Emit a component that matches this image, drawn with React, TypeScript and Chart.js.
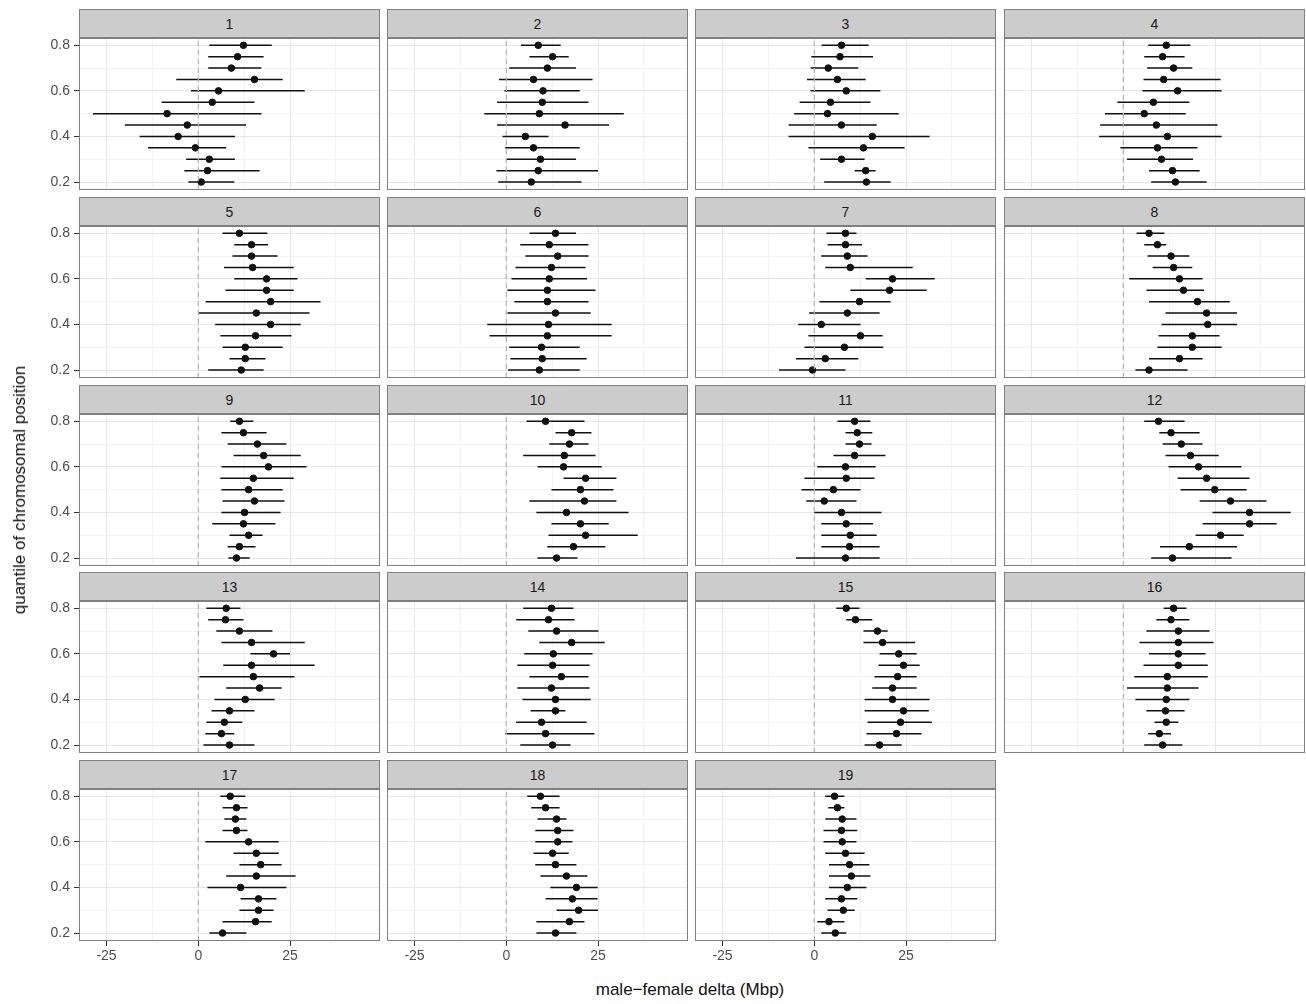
import { useEffect, useRef } from "react";
import { Chart, registerables } from "chart.js";

Chart.register(...registerables);

// quantiles, top (0.8) to bottom (0.2)
const quantiles = [0.8, 0.75, 0.7, 0.65, 0.6, 0.55, 0.5, 0.45, 0.4, 0.35, 0.3, 0.25, 0.2];
const chromosomes = ["1","2","3","4","5","6","7","8","9","10","11","12","13","14","15","16","17","18","19"];

// [estimate, low, high] per quantile, listed top to bottom
const chr1 = [[12.3,3,20],[10.7,2.7,17.8],[9,2.7,17.2],[15.3,-6,23],[5.5,-2,29],[3.8,-10,15.3],[-8.5,-28.7,17.2],[-3,-20,13],[-5.5,-16,10],[-0.8,-13.7,7.6],[3,-3.3,10],[2.5,-3.8,16.7],[0.8,-2.7,9.8]];
const chr2 = [[8.7,4,14.8],[12.6,6.3,17],[11.2,0.8,19],[7.4,-2,23.5],[10,-0.5,20],[9.8,-2.5,22.4],[9,-6,32],[16,-2.5,28],[5.2,-1,11.5],[7.4,-0.3,20],[9.3,0,19],[8.7,-2.7,25],[6.8,-2.2,20.5]];
const chr3 = [[7.4,2,14.8],[7,-0.8,16],[3.8,-1,12],[6.3,-2,14],[8.7,-1,18],[4.4,-4,15.3],[3.6,-5.5,23],[7.4,-7,17],[15.8,-7,31.4],[13.4,-1.6,24.6],[7.4,1.6,13.7],[14,11,16.7],[14.2,2.7,20.8]];
const chr4 = [[11.7,6.8,18.3],[10.7,5.7,16.7],[13.7,6.5,18.8],[11,5.5,26.5],[14.8,5.2,26.8],[8.2,-1.6,18],[5.7,-5,17],[9,-6.3,25.7],[12,-6.6,26.8],[9.3,-0.8,20.2],[10.4,1,19],[13.4,7,20.8],[14.2,7.6,22.7]];
const chr5 = [[11.2,6.6,18.8],[14.5,9.8,19],[14.5,9.3,21.6],[14.8,7,26],[18.6,9.8,27],[18.6,7.4,26],[19.7,2,33.3],[15.8,0,30.3],[19.7,4.6,27.9],[15.6,6,25.4],[12.8,6.6,23],[12.8,8.5,18.3],[11.7,2.7,17.8]];
const chr6 = [[13.4,6.3,19],[11.7,3.8,22.4],[14,5.2,22.4],[12.3,2.5,21.6],[11.7,1.4,22],[11.2,0.3,24.3],[11.2,2.2,22.4],[13.4,0.3,23],[11.5,-5.2,28.7],[11.2,-4.6,28.7],[9.6,0.8,20],[9.8,1.1,21.9],[9,0.5,20]];
const chr7 = [[8.5,3.3,11.5],[8.5,3.6,13],[9,1.9,14.5],[9.8,3,26.8],[21.3,14,32.8],[20.5,9.8,30.6],[12.3,1.4,20.8],[9,-1.4,17.8],[1.9,-4.4,12.6],[12.6,-1.6,18.6],[8.2,-2.7,18.8],[3,-5,12],[-0.5,-9.6,8.5]];
const chr8 = [[7,3.6,11.2],[9.3,5.7,11.7],[13,6.6,18],[13.7,8,18.8],[15.3,1.6,21.6],[16.4,6.3,22],[20.2,7,29],[22.7,11.5,31],[23,10.4,31],[18.8,9.6,26.2],[18.8,9.3,26.8],[15.3,7,21.6],[7,3.3,17.5]];
const chr9 = [[11.2,8.7,15],[12.3,6.3,18.6],[16.1,8,24],[17.8,9.6,27.9],[19.1,6.3,29.5],[15,6,26],[13.7,6.3,23],[15.3,6.6,23.5],[12.6,6.3,22.4],[12.3,3.8,21],[13.7,8.5,17.5],[11.2,8,15.6],[10.4,8.2,14]];
const chr10 = [[10.7,5.5,21.3],[17.8,13.4,23.2],[17.2,11.7,22.4],[15.8,4.6,24.3],[15.6,8.5,26],[21.6,15.6,30],[20.2,12.3,29.2],[21.3,6.3,30],[16.4,8.2,33.3],[20.2,12.3,27.9],[21.6,11.5,35.8],[18.3,11.2,27],[13.7,8.5,19.4]];
const chr11 = [[11,6.3,15.3],[11.7,8.5,15.8],[12.3,8.5,15.6],[11,5.2,19.4],[8.5,0.8,16.7],[8.7,-2.7,16.4],[5.2,-3.5,12.6],[2.7,-2.2,11.5],[7.4,0,18.3],[8.7,1.9,16],[9.8,1.9,17],[9.6,1.9,17.8],[8.5,-5,17.8]];
const chr12 = [[9.6,5.7,16.7],[13,9.8,20.8],[15.8,10.7,21.6],[18.3,11.5,26],[20.5,12.3,32.2],[22.7,14.8,34.4],[24.9,15.6,33.6],[29.2,20.8,39],[34.4,24.3,45.6],[34.4,21.6,41.8],[26.5,19.7,32.8],[18,10,31],[13.4,7.6,29.5]];
const chr13 = [[7.6,2.2,11.5],[7.4,2.7,12.3],[11.2,4.9,20.2],[14.5,6.3,29],[20.5,14.2,25],[14.5,6.8,31.7],[15,0.3,26.2],[16.7,7.6,22.7],[12.8,4.4,20.8],[8.5,3.6,15.3],[7.1,2.2,12],[6.3,1.9,9.8],[8.5,1.4,15.3]];
const chr14 = [[12.3,4.6,18.3],[11.5,2.7,18.6],[13.7,6,25.1],[17.8,9,26.8],[12.8,4.9,23.5],[12.6,3,22.7],[15,6.3,22.4],[12.3,3,22.7],[13.4,4.4,23],[13.4,6.6,16.1],[9.6,2.7,21.9],[10.7,-0.3,24],[12.6,3.8,17.5]];
const chr15 = [[8.7,6,12.3],[11.2,8.7,15.8],[17.2,13.4,20],[18.6,13.4,27.5],[23,17.8,27.9],[24.3,17.5,28.7],[22.7,16.4,27.9],[21.3,15.8,27.9],[21.3,13.7,31.4],[24.3,13.7,31.2],[23.5,14.5,32],[22.4,14.2,29.2],[17.8,13.7,23.8]];
const chr16 = [[13.7,11,17.2],[13,9,18],[15,6.3,23.5],[15,4.4,24.6],[15,7,22.4],[15,5.5,23],[12,3,23],[12,1,20.5],[11.7,3.3,18],[11.5,6.3,16.7],[11.7,8.5,15],[9.8,6.8,13],[10.7,5.7,16.1]];
const chr17 = [[8.7,6,12.8],[10.4,6.6,13.4],[10.1,7.1,13.1],[10.4,6.6,13.4],[13.7,1.9,21.9],[15.8,9.6,21.9],[17,11.2,22.7],[15.8,7.6,26.5],[11.5,2.5,24],[16.4,11.5,21.3],[16.4,11.2,20.5],[15.6,6.6,20],[6.6,3,13.1]];
const chr18 = [[9.3,5.7,14.5],[10.7,6.8,14.5],[13.7,8.5,16.4],[14,7.9,18.3],[14,7.9,18],[12.6,7.4,17],[13.4,7.9,19.1],[16.4,9.3,22.1],[19.1,12,24.9],[18,10.7,24.9],[19.7,13.7,25],[17.2,8.2,21.3],[13.4,8.2,19.1]];
const chr19 = [[5.5,3,8.2],[6.3,3.8,8.2],[7.6,3,11.5],[7.4,2.5,11.7],[7.6,2.5,11.5],[8.5,3,13.7],[9.6,4,15],[10.1,4,15.3],[9,4,14.2],[7.4,3,11.7],[7.9,3.6,11],[4,0.8,8.2],[5.7,1.9,8.7]];

const panelData = [chr1, chr2, chr3, chr4, chr5, chr6, chr7, chr8, chr9, chr10, chr11, chr12, chr13, chr14, chr15, chr16, chr17, chr18, chr19];

const X_MIN = -32.5, X_MAX = 49.5, Y_MIN = 0.165, Y_MAX = 0.832;
const COL_X = [79, 387, 695, 1004];
const ROW_Y = [38, 226, 414, 601, 789];
const PW = 301, PH = 152, STRIP = 29;
const FONT = "'Liberation Sans', Arial, sans-serif";

const isMajorX = (v: number) => Math.abs(v % 25) < 0.01;
const isMajorY = (v: number) => Math.round(v * 10) % 2 === 0;

const frame = {
  id: "frame",
  afterDraw(c: Chart) {
    const a = c.chartArea, ctx = c.ctx;
    ctx.save();
    ctx.strokeStyle = "#7f7f7f";
    ctx.lineWidth = 1;
    ctx.strokeRect(Math.round(a.left) + 0.5, Math.round(a.top) + 0.5, Math.round(a.right - a.left) - 1, Math.round(a.bottom - a.top) - 1);
    ctx.restore();
  },
};

function Panel({ idx }: { idx: number }) {
  const ref = useRef<HTMLCanvasElement>(null);
  const col = idx % 4, row = Math.floor(idx / 4);
  const leftAxis = col === 0;
  const bottomAxis = row === 4;
  const extraL = leftAxis ? 60 : 0;
  const extraB = bottomAxis ? 22 : 0;
  const w = PW + extraL, h = PH + extraB;

  useEffect(() => {
    if (!ref.current) return;
    const rows = panelData[idx];
    const bars: any[] = [];
    rows.forEach((r, i) => {
      bars.push({ x: r[1], y: quantiles[i] }, { x: r[2], y: quantiles[i] }, { x: null, y: null });
    });
    const chart = new Chart(ref.current, {
      type: "scatter",
      data: {
        datasets: [
          { data: [{ x: 0, y: Y_MIN }, { x: 0, y: Y_MAX }], showLine: true, borderColor: "#b3b3b3", borderWidth: 1.2, borderDash: [5, 4], pointRadius: 0 },
          { data: bars, showLine: true, spanGaps: false, borderColor: "#111", borderWidth: 1.5, pointRadius: 0 },
          { data: rows.map((r, i) => ({ x: r[0], y: quantiles[i] })), backgroundColor: "#111", borderColor: "#111", pointRadius: 3.3 },
        ],
      },
      options: {
        responsive: false,
        animation: false,
        layout: { padding: 0, autoPadding: false },
        plugins: { legend: { display: false }, tooltip: { enabled: false } },
        scales: {
          x: {
            type: "linear", min: X_MIN, max: X_MAX,
            border: { display: false },
            grid: {
              color: (c: any) => (isMajorX(c.tick?.value ?? 0) ? "#e6e6e6" : "#f3f3f3"),
              tickColor: (c: any) => (isMajorX(c.tick?.value ?? 1) ? "#333" : "rgba(0,0,0,0)"),
              drawTicks: bottomAxis, tickLength: 5,
            },
            ticks: {
              display: bottomAxis, stepSize: 12.5, includeBounds: false, autoSkip: false, maxRotation: 0,
              color: "#4d4d4d", font: { family: FONT, size: 14 }, padding: 2,
              callback: (v: any) => (isMajorX(v) ? String(v) : ""),
            },
            afterFit: (s: any) => { s.height = extraB; s.paddingLeft = 0; s.paddingRight = 0; },
          },
          y: {
            type: "linear", min: Y_MIN, max: Y_MAX,
            border: { display: false },
            grid: {
              color: (c: any) => (isMajorY(c.tick?.value ?? 0) ? "#e6e6e6" : "#f3f3f3"),
              tickColor: (c: any) => (isMajorY(c.tick?.value ?? 0.3) ? "#333" : "rgba(0,0,0,0)"),
              drawTicks: leftAxis, tickLength: 5,
            },
            ticks: {
              display: leftAxis, stepSize: 0.1, includeBounds: false, autoSkip: false,
              color: "#4d4d4d", font: { family: FONT, size: 14 }, padding: 4,
              callback: (v: any) => (isMajorY(v) ? Number(v).toFixed(1) : ""),
            },
            afterFit: (s: any) => { s.width = extraL; s.paddingTop = 0; s.paddingBottom = 0; },
          },
        },
      },
      plugins: [frame],
    });
    return () => chart.destroy();
  }, [idx]);

  const left = COL_X[col], top = ROW_Y[row];
  return (
    <>
      <div style={{ position: "absolute", left, top: top - STRIP, width: PW - 2, height: STRIP - 2, background: "#cccccc", border: "1px solid #7f7f7f", font: `14px ${FONT}`, color: "#1a1a1a", display: "flex", alignItems: "center", justifyContent: "center" }}>
        {chromosomes[idx]}
      </div>
      <canvas ref={ref} width={w} height={h} style={{ position: "absolute", left: left - extraL, top, width: w, height: h }} />
    </>
  );
}

export default function App() {
  return (
    <div style={{ position: "absolute", left: 0, top: 0, width: 1306, height: 1004, background: "#fff", fontFamily: FONT }}>
      {chromosomes.map((_, i) => <Panel key={i} idx={i} />)}
      <div style={{ position: "absolute", left: 690, top: 980, transform: "translateX(-50%)", fontSize: 17, color: "#111", whiteSpace: "nowrap" }}>male−female delta (Mbp)</div>
      <div style={{ position: "absolute", left: 20, top: 490, transform: "translate(-50%,-50%) rotate(-90deg)", fontSize: 17, color: "#111", whiteSpace: "nowrap" }}>quantile of chromosomal position</div>
    </div>
  );
}
